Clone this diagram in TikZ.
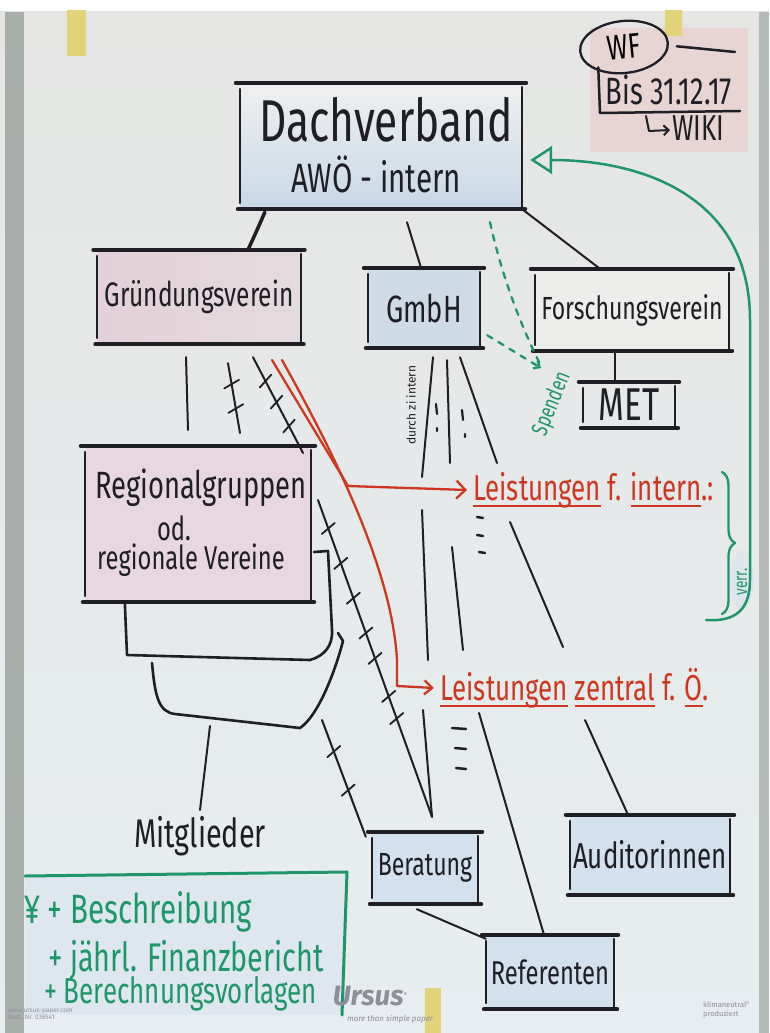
\documentclass[tikz,border=0pt]{standalone}
\usepackage{fontspec}
\setmainfont{Fira Sans}
\newfontfamily\handfont{Fira Sans}[FakeStretch=0.72]
\newcommand\hw[1]{\handfont\fontsize{#1}{#1}\selectfont}
\newcommand\redul[1]{\setbox0\hbox{#1}\rlap{\rule[-7pt]{\wd0}{2.6pt}}\box0\relax}
\usetikzlibrary{arrows.meta,decorations.markings,decorations.pathreplacing,shapes.geometric}
\definecolor{papertop}{RGB}{229,230,228}
\definecolor{paperbot}{RGB}{231,237,240}
\definecolor{ink}{RGB}{30,30,36}
\definecolor{redink}{RGB}{205,55,30}
\definecolor{greenink}{RGB}{30,150,105}
\definecolor{bluefill}{RGB}{200,216,232}
\definecolor{pinkfill}{RGB}{228,208,216}
\definecolor{pinkwf}{RGB}{234,198,198}
\definecolor{tape}{RGB}{226,210,120}
\definecolor{edgegrey}{RGB}{168,175,171}
\definecolor{logo}{RGB}{140,142,152}
\newcommand\tickmark{\draw[ink, line width=1.8pt, line cap=round] (-3,-8) -- (3,8);}
\newcommand\sketchframe[1]{%
  \draw[thickpen] ([shift={(-4,0)}]#1.north west) -- ([shift={(4,0)}]#1.north east);
  \draw[thickpen] ([shift={(-2,0)}]#1.south west) -- ([shift={(3,0)}]#1.south east);
  \draw[pen] ([shift={(0,6)}]#1.north west) -- ([shift={(0,-6)}]#1.south west);
  \draw[pen] ([shift={(0,4)}]#1.north east) -- ([shift={(0,-2)}]#1.south east);}
\tikzset{
  pen/.style={ink, line width=2pt, line cap=round, line join=round},
  thickpen/.style={ink, line width=4pt, line cap=round},
  redpen/.style={redink, line width=2.3pt, line cap=round, line join=round},
  greenpen/.style={greenink, line width=2.3pt, line cap=round, line join=round},
  boxnode/.style={inner sep=0pt, text=ink},
  tk/.style={postaction={decorate, decoration={markings, mark=at position #1 with {\tickmark}}}},
  handtext/.style={text=ink, inner sep=0pt},
}
\begin{document}
\begin{tikzpicture}[x=1pt,y=-1pt]
\useasboundingbox (0,0) rectangle (769,1033);
% paper
\fill[white] (0,0) rectangle (769,1033);
\shade[top color=papertop, bottom color=paperbot] (0,12) rectangle (769,1033);
\fill[edgegrey] (5,12) rectangle (24,1033);
\fill[edgegrey!85] (759,12) rectangle (769,1033);
\fill[pinkwf, opacity=0.55] (590,28) rectangle (748,152);
\fill[bluefill!70, opacity=0.6] (25,876) rectangle (345,1015);
\fill[bluefill!70, opacity=0.5] (742,580) ellipse [x radius=12, y radius=30];
% tapes
\fill[tape] (67,10) rectangle (86,56);
\fill[tape] (665,10) rectangle (682,36);
\fill[tape] (425,988) rectangle (441,1033);

% boxes
\node[boxnode, top color=papertop!60!white, bottom color=bluefill, minimum width=282, minimum height=126] (dach) at (381,146) {};
\node[handtext, font=\hw{59}] (dachT) at (386,120) {Dachverband};
\node[handtext, font=\hw{41}] (awo) at (376,174) {AWÖ - intern};
\sketchframe{dach}

\node[boxnode, left color=pinkfill, right color=papertop!50!pinkfill, minimum width=203, minimum height=94, font=\hw{34}] (gruend) at (199,297) {Gründungsverein};
\sketchframe{gruend}
\node[boxnode, fill=bluefill!80!papertop, minimum width=112, minimum height=80, font=\hw{38}] (gmbh) at (424,308) {GmbH};
\sketchframe{gmbh}
\node[boxnode, fill=papertop!70!white, minimum width=194, minimum height=82, font=\hw{32}] (forsch) at (632,310) {Forschungsverein};
\sketchframe{forsch}
\node[boxnode, minimum width=92, minimum height=46, font=\hw{46}] (met) at (629,405) {MET};
\sketchframe{met}

\node[boxnode, fill=pinkfill!85!white, minimum width=226, minimum height=156] (region) at (198,524) {};
\node[handtext, font=\hw{38}] (regT1) at ([shift={(3,-36)}]region.center) {Regionalgruppen};
\node[handtext, font=\hw{33}] (regT2) at ([shift={(-24,4)}]region.center) {od.};
\node[handtext, font=\hw{33}] (regT3) at ([shift={(-7,36)}]region.center) {regionale Vereine};
\sketchframe{region}

\node[boxnode, fill=bluefill!80!white, minimum width=106, minimum height=72, font=\hw{32}] (berat) at (425,868) {Beratung};
\sketchframe{berat}
\node[boxnode, fill=bluefill!80!white, minimum width=160, minimum height=80, font=\hw{36}] (audit) at (650,855) {Auditorinnen};
\sketchframe{audit}
\node[boxnode, fill=bluefill!80!white, minimum width=128, minimum height=74, font=\hw{33}] (refer) at (550,972) {Referenten};
\sketchframe{refer}

\node[handtext, font=\hw{40}] (mitgl) at (200,836) {Mitglieder};

% stacked layers under Regionalgruppen
\draw[pen, line width=2.6pt] ([shift={(40,0)}]region.south west) -- (127,655) -- (310,660)
   .. controls (324,656) and (333,646) .. (332,630) -- (328,551) -- (314,552);
\draw[pen, line width=2.6pt] (152,663) .. controls (155,695) and (158,712) .. (175,714) -- (300,728)
   .. controls (318,716) and (335,672) .. (343,641) -- (338,633);
\coordinate (lay3) at (210,726);
\draw[pen] (lay3) -- ([shift={(0,-6)}]mitgl.north);

% Dachverband connectors
\draw[thickpen, line width=3.5pt] ([shift={(25,3)}]dach.south west) .. controls (258,228) .. ([shift={(49,0)}]gruend.north);
\draw[pen] ([shift={(26,13)}]dach.south) -- ([shift={(-3,0)}]gmbh.north);
\draw[pen] (dach.south east) -- ([shift={(-32,0)}]forsch.north);
\draw[pen] ([shift={(-17,0)}]forsch.south) -- ([shift={(-14,0)}]met.north);

% Gruendungsverein down lines
\coordinate (g1e) at (188,430);
\draw[pen] ([shift={(-13,13)}]gruend.south) -- (g1e);
\coordinate (h1e) at (240,433);
\draw[pen, tk=0.3, tk=0.65] ([shift={(29,19)}]gruend.south) -- (h1e);
\coordinate (h2e) at (303,453);
\draw[pen, tk=0.25, tk=0.47, tk=0.72] ([shift={(54,13)}]gruend.south) -- (h2e);
\coordinate (h3s) at (318,500);
\draw[pen, tk=0.09, tk=0.2, tk=0.31, tk=0.42, tk=0.5, tk=0.62, tk=0.69] (h3s) -- ([shift={(7,-15)}]berat.north);
\coordinate (h4s) at (322,720);
\draw[pen, tk=0.27, tk=0.6] (h4s) -- ([shift={(-6,5)}]berat.north west);

% GmbH down lines
\coordinate (l1a) at (422,477); \coordinate (l1b) at (422,510); \coordinate (l1c) at (428,660); \coordinate (l1d) at (423,710);
\draw[pen] ([shift={(9,9)}]gmbh.south) -- (l1a);
\draw[pen] (l1b) -- (l1c);
\draw[pen] (l1d) -- ([shift={(7,-15)}]berat.north);
\coordinate (l2a) at (450,463); \coordinate (l2b) at (452,547); \coordinate (l2c) at (463,650); \coordinate (l2d) at (479,713);
\draw[pen] ([shift={(23,12)}]gmbh.south) -- (l2a);
\draw[pen] (l2b) -- (l2c);
\draw[pen] (l2d) -- ([shift={(-6,0)}]refer.north);
\coordinate (l3a) at (497,463); \coordinate (l3b) at (510,522); \coordinate (l3c) at (563,647);
\draw[pen] ([shift={(36,9)}]gmbh.south) -- (l3a);
\draw[pen] (l3b) -- (l3c);
\coordinate (l4) at (585,720);
\draw[pen] (l4) -- ([shift={(-22,0)}]audit.north);
\draw[pen] ([shift={(45,5)}]berat.south west) -- ([shift={(0,4)}]refer.north west);

% small continuation marks
\draw[pen, line width=2.2pt] (436,404) -- (437,414) (437,428) -- (437,431);
\draw[pen, line width=2.2pt] (462,410) -- (463,420) (465,434) -- (465,437);
\draw[pen, line width=2.5pt] (477,517) -- (483,518) (477,535) -- (483,536) (479,552) -- (485,553);
\draw[pen, line width=2.5pt] (452,728) -- (466,729) (455,748) -- (466,749) (456,768) -- (466,769);

\node[handtext, rotate=90, font=\fontsize{12}{12}\selectfont] (durch) at (411,405) {durch zi intern};

% red
\node[anchor=west, text=redink, inner sep=0pt, font=\hw{36}] (lint) at (473,490) {\redul{Leistungen} f. \redul{intern}.:};
\node[anchor=west, text=redink, inner sep=0pt, font=\hw{36}] (lzen) at (440,688) {\redul{Leistungen} \redul{zentral} f. \redul{Ö}.};
\coordinate (r1) at (272,360);
\coordinate (r2) at (282,360);
\draw[redpen, -{Straight Barb[length=9pt,width=18pt,line width=2.3pt]}] (r1) -- (348,486) -- ([shift={(-6,0)}]lint.west);
\draw[redpen, -{Straight Barb[length=8pt,width=14pt,line width=2.3pt]}] (r2) .. controls (335,455) and (392,570) .. (397,660) -- (397,686) -- ([shift={(-6,0)}]lzen.west);

% green Spenden
\draw[greenpen, dash pattern=on 6pt off 7pt] ([shift={(109,13)}]dach.south) .. controls (505,290) and (528,340) .. (541,366);
\draw[greenpen, dash pattern=on 6pt off 7pt, -{Straight Barb[length=5pt,width=9pt]}] ([shift={(7,-13)}]gmbh.south east) -- (541,368);
\node[text=greenink, inner sep=0pt, rotate=68, font=\hw{23}] (spenden) at (552,404) {Spenden};

% green feedback arrow and brace
\draw[greenpen, decorate, decoration={brace, amplitude=13pt}] (722,472) -- (722,614);
\coordinate (gstart) at (706,620);
\draw[greenpen, line width=2.5pt, -{Triangle[open, length=22pt, width=28pt, line width=2.5pt]}]
   (gstart) .. controls (735,622) and (750,610) .. (750,580) -- (750,320)
   .. controls (750,195) and (640,160) .. ([shift={(8,14)}]dach.east);
\node[text=greenink, inner sep=0pt, rotate=90, font=\hw{19}] (verr) at (742,582) {verr.};

% WF area
\node[draw=ink, line width=2.3pt, ellipse, minimum width=88, minimum height=52, inner sep=0pt, rotate=6, font=\hw{35}] (wf) at (624,47) {WF};
\coordinate (wfl) at (735,52);
\draw[pen, line width=2.5pt] ([shift={(8,4)}]wf.east) -- (wfl);
\coordinate (brk) at (740,111);
\draw[pen, line width=2.5pt] ([shift={(4,-2)}]wf.south west) -- (600,113) -- (brk);
\node[handtext, font=\hw{38}] (bis) at (669,90) {Bis 31.12.17};
\node[handtext, anchor=west, font=\hw{36}] (wiki) at (672,128) {WIKI};
\draw[pen, -{Straight Barb[length=5pt,width=10pt]}] (646,116) -- (649,131) -- ([shift={(-2,2)}]wiki.west);

% green notes box
\draw[greenpen, line width=3pt] (25,876) -- (347,872) -- (342,1015);
\node[anchor=west, text=greenink, inner sep=0pt, font=\hw{41}] (n1) at (24,912) {¥ + Beschreibung};
\node[anchor=west, text=greenink, inner sep=0pt, font=\hw{40}] (n2) at (48,960) {+ jährl. Finanzbericht};
\node[anchor=west, text=greenink, inner sep=0pt, font=\hw{36}] (n3) at (44,994) {+ Berechnungsvorlagen};

% printed paper marks
\node[text=logo, inner sep=0pt, font=\bfseries\itshape\fontsize{28}{28}\selectfont] (ursus) at (370,996) {Ursus\textsuperscript{\tiny ®}};
\node[text=logo, inner sep=0pt, font=\itshape\fontsize{8}{8}\selectfont] (ursus2) at (390,1019) {more than simple paper};
\node[text=logo, inner sep=0pt, anchor=west, font=\fontsize{6.5}{7}\selectfont, align=left] (www) at (8,1014) {www.ursus-paper.com\\Best. Nr. 036541};
\node[text=logo, inner sep=0pt, anchor=east, font=\fontsize{7.5}{9}\selectfont, align=left] (klima) at (750,1010) {klimaneutral\textsuperscript{o}\\produziert};
\end{tikzpicture}
\end{document}
